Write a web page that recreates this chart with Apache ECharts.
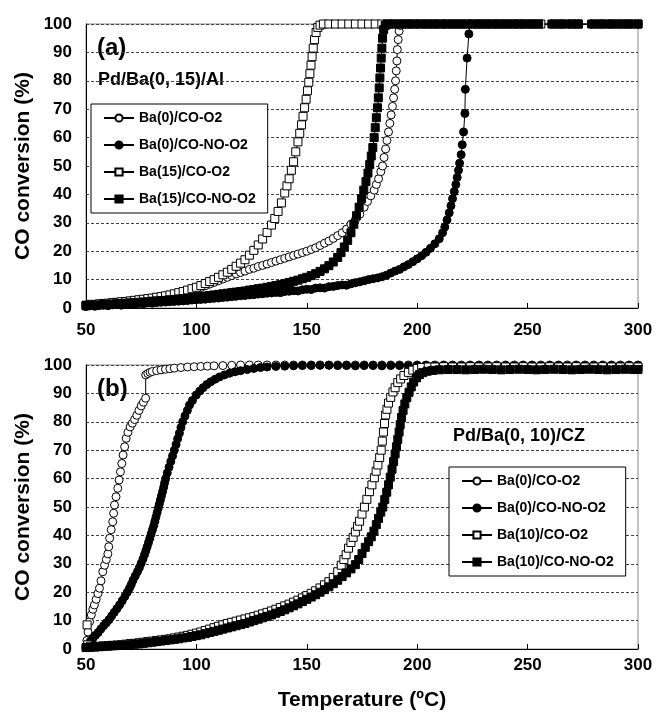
<!DOCTYPE html>
<html>
<head>
<meta charset="utf-8">
<script src="https://cdn.jsdelivr.net/npm/echarts@6/dist/echarts.min.js"></script>
<style>
html,body{margin:0;padding:0;background:#fff;}
#chart{width:658px;height:713px;}
</style>
</head>
<body>
<div id="chart"></div>
<script>
// ---------- Data (Temperature °C, CO conversion %) ----------
const xTicks = [50, 100, 150, 200, 250, 300];
const yTicks = [0, 10, 20, 30, 40, 50, 60, 70, 80, 90, 100];

const namesTop = ['Ba(0)/CO-O2', 'Ba(0)/CO-NO-O2', 'Ba(15)/CO-O2', 'Ba(15)/CO-NO-O2'];
const namesBottom = ['Ba(0)/CO-O2', 'Ba(0)/CO-NO-O2', 'Ba(10)/CO-O2', 'Ba(10)/CO-NO-O2'];

// Panel (a) Pd/Ba(0, 15)/Al
const topBa0_CO_O2 = [
[50,1.0],[52,1.2],[54,1.0],[56,1.3],[58,1.5],[60,1.4],[62,1.8],[64,2.0],[66,2.0],[68,2.3],[70,2.5],[72,2.6],[74,2.9],[76,3.0],[78,3.2],[80,3.5],[82,3.6],[84,3.9],[86,4.1],[88,4.4],[90,4.7],[92,5.0],[94,5.4],[96,5.8],[98,6.2],[100,6.7],[102,7.2],[104,7.8],[106,8.4],[108,9.0],[110,9.6],[112,10.2],[114,10.8],[116,11.4],[118,12.0],[120,12.5],[122,13.0],[124,13.6],[126,14.0],[128,14.6],[130,15.0],[132,15.5],[134,16.0],[136,16.5],[138,17.0],[140,17.5],[142,18.0],[144,18.5],[146,19.0],[148,19.5],[150,20.0],[152,20.6],[154,21.2],[156,22.0],[158,22.8],[160,23.6],[162,24.5],[164,25.5],[166,26.5],[168,27.8],[170,29.5],[172,31.0],[174,33.0],[176,35.5],[177.5,37.5],[179,39.5],[180.5,41.5],[181.5,43.5],[182.5,45.5],[183.5,48.0],[184.3,50.0],[185,53],[185.7,56],[186.3,59],[187,62],[187.6,65],[188.2,68],[188.8,71],[189.3,74],[189.8,77],[190.2,80],[190.5,83.5],[190.8,87],[191,91],[191.4,94.5],[191.8,97.5],[192.3,99.5],[193,100],
[196,100],[200,100],[204,100],[208,100],[212,100],[216,100],[220,100],[224,100],[228,100],[232,100],[236,100],[240,100],[244,100],[248,100],[252,100],[256,100],[261,100],[265,100],[269,100],[273,100],[279,100],[283,100],[287,100],[291,100],[295,100],[300,100]
];
const topBa0_CO_NO_O2 = [
[50,0.5],[52,0.8],[54,0.6],[56,0.9],[58,1.0],[60,0.8],[62,1.1],[64,1.2],[66,1.0],[68,1.3],[70,1.4],[72,1.3],[74,1.6],[76,1.5],[78,1.8],[80,1.7],[82,1.9],[84,2.0],[86,2.1],[88,2.2],[90,2.3],[92,2.4],[94,2.5],[96,2.6],[98,2.8],[100,2.9],[102,3.0],[104,3.1],[106,3.3],[108,3.4],[110,3.5],[112,3.7],[114,3.8],[116,4.0],[118,4.1],[120,4.3],[122,4.4],[124,4.6],[126,4.7],[128,4.9],[130,5.0],[132,5.2],[134,5.3],[136,5.5],[138,5.4],[140,5.8],[142,5.9],[144,6.1],[146,6.0],[148,6.4],[150,6.6],[152,6.5],[154,7.0],[156,7.1],[158,7.0],[160,7.5],[162,7.6],[164,7.9],[166,8.1],[168,8.0],[170,8.5],[172,8.9],[174,9.2],[176,9.6],[178,10.0],[180,10.3],[182,10.6],[184,11.0],[186,11.5],[188,12.3],[190,13.0],[192,13.6],[194,14.5],[196,15.3],[198,16.3],[200,17.3],[202,18.4],[204,19.6],[206,21.0],[208,22.6],[210,24.4],[211.5,26.5],[212.5,28.5],[213.5,31],[214.5,33.5],[215.3,36],[216,38.5],[216.8,41],[217.5,43.5],[218.1,46],[218.7,48.5],[219.2,51],[219.9,54],[220.4,57.5],[221,62],[221.6,68.5],[221.8,77],[222.6,88],[223.4,96.5],[223.8,100],
[226,100],[229,100],[232,100],[235,100],[238,100],[241,100],[244,100],[247,100],[250,100],[253,100],[256,100],[261,100],[264,100],[267,100],[270,100],[273,100],[279,100],[282,100],[285,100],[288,100],[291,100],[294,100],[297,100],[300,100]
];
const topBa15_CO_O2 = [
[50,1.0],[52,1.3],[54,1.2],[56,1.5],[58,1.6],[60,1.7],[62,1.9],[64,2.0],[66,2.2],[68,2.3],[70,2.5],[72,2.7],[74,2.9],[76,3.1],[78,3.3],[80,3.5],[82,3.8],[84,4.0],[86,4.3],[88,4.6],[90,5.0],[92,5.4],[94,5.8],[96,6.3],[98,6.8],[100,7.3],[102,7.9],[104,8.6],[106,9.3],[108,10.0],[110,10.8],[112,11.7],[114,12.6],[116,13.6],[118,14.7],[120,15.8],[122,17.0],[124,18.6],[126,20.3],[128,22.2],[130,24.3],[132,26.6],[134,29.2],[135.5,31.5],[137,34],[138.5,37],[140,40.5],[141,43],[142,45.5],[143,48.5],[144,51.5],[145,55],[146,58.5],[146.8,61.5],[147.6,64.5],[148.3,67.5],[149,70.5],[149.7,73.5],[150.3,76.5],[150.9,79.5],[151.4,82.5],[151.9,85.5],[152.4,88.5],[152.9,91.5],[153.5,94.5],[154.2,97],[155,98.8],[156,99.6],[157.5,100],
[160,100],[163,100],[166,100],[169,100],[172,100],[175,100],[178,100],[181,100],[184,100],[187,100],[190,100],[193,100],[196,100],[199,100],[202,100],[205,100],[208,100],[211,100],[214,100],[217,100],[220,100],[223,100],[226,100],[229,100],[232,100],[235,100],[238,100],[241,100],[244,100],[247,100],[250,100],[253,100],[256,100],[262,100],[266,100],[270,100],[273,100],[280,100],[284,100],[288,100],[292,100],[296,100],[300,100]
];
const topBa15_CO_NO_O2 = [
[50,0.8],[52,1.0],[54,0.9],[56,1.1],[58,1.2],[60,1.3],[62,1.4],[64,1.5],[66,1.6],[68,1.7],[70,1.8],[72,1.9],[74,2.0],[76,2.1],[78,2.2],[80,2.4],[82,2.5],[84,2.6],[86,2.7],[88,2.9],[90,3.0],[92,3.2],[94,3.3],[96,3.5],[98,3.6],[100,3.8],[102,4.0],[104,4.2],[106,4.4],[108,4.6],[110,4.8],[112,5.0],[114,5.2],[116,5.4],[118,5.6],[120,5.8],[122,6.0],[124,6.3],[126,6.5],[128,6.8],[130,7.0],[132,7.3],[134,7.6],[136,7.9],[138,8.2],[140,8.6],[142,9.0],[144,9.4],[146,9.8],[148,10.3],[150,10.8],[152,11.4],[154,12.1],[156,12.9],[158,13.8],[160,14.9],[162,16.2],[164,17.8],[165.5,19.5],[167,21.5],[168.5,23.8],[170,26.5],[171.3,29.5],[172.5,32.5],[173.7,35.5],[174.8,38.5],[175.8,41.5],[176.8,44.5],[177.7,47.5],[178.5,50.5],[179.2,53.5],[179.9,56.5],[180.5,60],[181,63.5],[181.5,67],[182,70.5],[182.4,74],[182.8,77.5],[183.1,81],[183.4,84.5],[183.7,88],[184,91.5],[184.3,95],[184.8,98],[185.5,99.5],[186.5,100],
[189,100],[192,100],[195,100],[198,100],[201,100],[204,100],[207,100],[210,100],[213,100],[216,100],[219,100],[222,100],[225,100],[228,100],[231,100],[234,100],[237,100],[240,100],[243,100],[246,100],[249,100],[252,100],[255,100],[261,100],[264,100],[267,100],[270,100],[273,100],[279,100],[282,100],[285,100],[288,100],[291,100],[294,100],[297,100],[300,100]
];

// Panel (b) Pd/Ba(0, 10)/CZ
const botBa0_CO_O2 = [
[50,0.5],[50.4,3],[50.9,6],[51.6,9.6],[52.4,12],[53.1,14],[53.8,15.5],[54.6,17.5],[55.4,19.5],[56.1,21.4],[56.8,24],[57.6,27.2],[58.4,29.5],[59.2,31.5],[59.9,33.5],[60.3,36],[60.7,39],[61.4,42],[62.1,44.8],[62.5,47.8],[62.9,50.7],[63.6,53.6],[64.4,56.6],[65,59.5],[65.6,62.4],[66.2,65.3],[66.8,68.3],[67.5,71.2],[68.2,74.2],[69,76.3],[70,78.2],[71,79.5],[72,80.8],[73,82.3],[74,84],[75,85.6],[76,86.9],[77,88.3],[77.05,96.5],[78,97],[79,97.4],[80,97.7],[82,98],[84,98.3],[86,98.5],[88,98.7],[90,98.9],[93,99.1],[96,99.3],[99,99.4],[102,99.5],[105,99.6],[108,99.7],[112,99.8],[116,99.9],[120,100],[124,100],[128,100],[132,100],[136,100],[140,100],[144,100],[148,100],[152,100],[156,100],[160,100],[164,100],[168,100],[172,100],[176,100],[180,100],[184,100],[188,100],[192,100],[196,100],[200,100],[204,100],[208,100],[212,100],[216,100],[220,100],[224,100],[228,100],[232,100],[236,100],[240,100],[244,100],[248,100],[252,100],[256,100],[260,100],[264,100],[268,100],[272,100],[276,100],[280,100],[284,100],[288,100],[292,100],[296,100],[300,100]
];
const botBa0_CO_NO_O2 = [
[50,0.5],[50.8,1.5],[52,2.8],[53.1,3.8],[54.3,4.8],[55.5,5.8],[56.7,7],[58,8.2],[59.2,9.2],[60.4,10.3],[61.6,11.6],[62.8,12.9],[64,14.2],[65.2,15.5],[66.4,17],[67.6,18.5],[68.7,20],[69.7,21.4],[70.5,22.7],[71.3,24.2],[72.3,25.7],[73.3,27.2],[74.2,28.7],[75,30.2],[75.8,31.7],[76.5,33.2],[77.1,34.6],[77.7,36],[78.3,37.5],[78.9,39],[79.5,40.5],[80.1,42],[80.7,43.5],[81.2,45],[81.7,46.5],[82.2,48],[82.7,49.5],[83.2,51],[83.7,52.5],[84.2,54],[84.7,55.5],[85.2,57],[85.6,58.5],[86.1,60],[86.8,62],[87.6,64],[88.4,66],[89.2,68],[90,70],[90.8,72],[91.5,74],[92.3,76],[93,78],[93.8,80],[94.8,82],[95.9,84],[96.9,85.9],[98.2,87.5],[99.9,89.4],[101.5,90.8],[103,92],[104.7,93.1],[106.5,94.1],[108.5,95],[110.5,95.8],[112.7,96.5],[115,97.1],[117.5,97.6],[120,98],[123,98.4],[126,98.8],[129,99.1],[132,99.3],[136,99.5],[140,99.6],[144,99.7],[148,99.8],[152,99.8],[156,99.9],[160,99.9],[164,99.8],[168,99.8],[172,99.7],[176,99.8],[180,99.8],[184,99.7],[188,99.8],[192,99.8],[196,99.7],[200,99.8],[204,99.8],[208,99.7],[212,99.8],[216,99.8],[220,99.7],[224,99.8],[228,99.8],[232,99.7],[236,99.8],[240,99.8],[244,99.7],[248,99.8],[252,99.8],[256,99.7],[260,99.8],[264,99.8],[268,99.7],[272,99.8],[276,99.8],[280,99.7],[284,99.8],[288,99.8],[292,99.7],[296,99.8],[300,99.8]
];
const botBa10_CO_O2 = [
[50.5,8.5],[50.8,1.5],[52,1.0],[54,0.8],[56,1.0],[58,1.1],[60,1.2],[62,1.3],[64,1.4],[66,1.5],[68,1.7],[70,1.9],[72,2.0],[74,2.2],[76,2.4],[78,2.6],[80,2.8],[82,3.0],[84,3.2],[86,3.4],[88,3.6],[90,3.9],[92,4.2],[94,4.5],[96,4.8],[98,5.2],[100,5.6],[102,6.0],[104,6.5],[106,7.0],[108,7.5],[110,8.0],[112,8.5],[114,9.0],[116,9.4],[118,9.8],[120,10.2],[122,10.6],[124,11.0],[126,11.4],[128,11.9],[130,12.4],[132,12.9],[134,13.4],[136,14.0],[138,14.6],[140,15.2],[142,15.8],[144,16.5],[146,17.2],[148,18.0],[150,18.8],[152,19.6],[154,20.5],[156,21.5],[158,22.6],[160,23.7],[162,25.2],[164,27.2],[165.6,29.5],[166.8,31.5],[167.8,33.2],[168.9,35.5],[170,37.5],[171,39.3],[172,41.2],[173,43.2],[173.9,45],[175,47.5],[176.1,50],[177.2,52.7],[178.4,55.4],[179.5,57.8],[180.6,60.3],[181.4,62.6],[182.2,64.8],[183,67.4],[183.7,70],[184.2,73.2],[184.7,76.4],[185.2,79.4],[185.7,82.4],[186.3,84.4],[187,86.6],[188,88.6],[189,90.5],[190,92],[191.2,93.8],[192.5,95.1],[194,96.3],[196,97.4],[198,98.2],[200,98.8],[202,99.1],[205,99.3],[208,99.3],[212,99.4],[216,99.3],[220,99.3],[224,99.4],[228,99.3],[232,99.3],[236,99.4],[240,99.3],[244,99.3],[248,99.4],[252,99.3],[256,99.3],[260,99.4],[264,99.3],[268,99.3],[272,99.4],[276,99.3],[280,99.3],[284,99.4],[288,99.3],[292,99.3],[296,99.4],[300,99.3]
];
const botBa10_CO_NO_O2 = [
[50,0.5],[52,0.6],[54,0.7],[56,0.8],[58,0.9],[60,1.0],[62,1.1],[64,1.2],[66,1.3],[68,1.4],[70,1.5],[72,1.7],[74,1.8],[76,2.0],[78,2.2],[80,2.4],[82,2.6],[84,2.8],[86,3.0],[88,3.2],[90,3.4],[92,3.6],[94,3.9],[96,4.1],[98,4.4],[100,4.7],[102,5.0],[104,5.4],[106,5.8],[108,6.2],[110,6.6],[112,7.0],[114,7.4],[116,7.8],[118,8.2],[120,8.6],[122,9.0],[124,9.5],[126,10.0],[128,10.5],[130,11.0],[132,11.5],[134,12.0],[136,12.6],[138,13.2],[140,13.8],[142,14.5],[144,15.2],[146,15.9],[148,16.7],[150,17.5],[152,18.3],[154,19.1],[156,20.0],[158,20.9],[160,21.9],[162,23.0],[164,24.2],[166,25.5],[168,26.8],[170,28.2],[172,29.7],[173.5,31.5],[175,33.6],[176.5,35.8],[178,37.8],[179.2,39.5],[180.4,41.5],[181.5,43.8],[182.5,46],[183.5,48.2],[184.4,50],[185.3,52.6],[186.2,55.2],[187,57.8],[187.8,60.5],[188.6,63.3],[189.3,66],[190,68.7],[190.6,71.2],[191.2,73.8],[191.8,76.4],[192.3,79],[192.9,81.5],[193.6,84],[194.4,86.3],[195.3,88.5],[196.3,90.4],[197.3,92.3],[198.4,94],[199.7,95.5],[201,96.6],[202.5,97.3],[204.5,97.8],[207,98.1],[210,98.3],[214,98.4],[218,98.4],[222,98.3],[226,98.4],[230,98.5],[234,98.4],[238,98.3],[242,98.4],[246,98.5],[250,98.4],[254,98.3],[258,98.4],[262,98.5],[266,98.4],[270,98.3],[274,98.4],[278,98.5],[282,98.4],[286,98.3],[290,98.4],[294,98.5],[298,98.4],[300,98.4]
];

// ---------- Chart ----------
const FONT = "'Liberation Sans', Arial, sans-serif";
const chart = echarts.init(document.getElementById('chart'), null, {renderer: 'canvas'});

const styles = [
  {symbol: 'circle', fill: '#fff'},
  {symbol: 'circle', fill: '#000'},
  {symbol: 'rect', fill: '#fff'},
  {symbol: 'rect', fill: '#000'}
];

function mkSeries(name, data, idx, st) {
  return {
    type: 'line', name: name, data: data,
    xAxisIndex: idx, yAxisIndex: idx,
    symbol: st.symbol, symbolSize: 8, showSymbol: true,
    lineStyle: {color: '#000', width: 1},
    itemStyle: {color: st.fill, borderColor: '#000', borderWidth: 1},
    emphasis: {disabled: true},
    animation: false
  };
}

const topData = [topBa0_CO_O2, topBa0_CO_NO_O2, topBa15_CO_O2, topBa15_CO_NO_O2];
const botData = [botBa0_CO_O2, botBa0_CO_NO_O2, botBa10_CO_O2, botBa10_CO_NO_O2];
const series = [];
topData.forEach((d, i) => series.push(mkSeries(namesTop[i], d, 0, styles[i])));
botData.forEach((d, i) => series.push(mkSeries(namesBottom[i], d, 1, styles[i])));

function xAxisCfg(gi, margin) {
  return {
    type: 'value', gridIndex: gi, min: xTicks[0], max: xTicks[xTicks.length - 1], interval: 50,
    axisLine: {show: true, lineStyle: {color: '#000', width: 1}},
    axisTick: {show: true, inside: true, length: 5, lineStyle: {color: '#000'}},
    axisLabel: {fontSize: 17, fontWeight: 'bold', color: '#000', fontFamily: FONT, margin: margin},
    splitLine: {show: false}
  };
}
function yAxisCfg(gi) {
  return {
    type: 'value', gridIndex: gi, min: yTicks[0], max: yTicks[yTicks.length - 1], interval: 10,
    axisLine: {show: true, lineStyle: {color: '#000', width: 1}},
    axisTick: {show: false},
    axisLabel: {fontSize: 17, fontWeight: 'bold', color: '#000', fontFamily: FONT, margin: 14},
    splitLine: {show: true, lineStyle: {color: '#444', width: 1, type: [3, 2]}}
  };
}
function legendCfg(names, left, top) {
  return {
    data: names, orient: 'vertical', left: left, top: top,
    backgroundColor: '#fff', borderColor: '#000', borderWidth: 1,
    padding: [7, 12, 7, 12], itemGap: 13, itemWidth: 30, itemHeight: 9,
    selectedMode: false,
    textStyle: {fontSize: 14, fontWeight: 'bold', color: '#000', fontFamily: FONT}
  };
}

const option = {
  backgroundColor: '#fff',
  animation: false,
  grid: [
    {left: 86, top: 24, width: 552, height: 284, show: true, borderColor: '#888', borderWidth: 1, backgroundColor: 'transparent'},
    {left: 86, top: 365, width: 552, height: 284, show: true, borderColor: '#888', borderWidth: 1, backgroundColor: 'transparent'}
  ],
  xAxis: [xAxisCfg(0, 14), xAxisCfg(1, 8)],
  yAxis: [yAxisCfg(0), yAxisCfg(1)],
  legend: [legendCfg(namesTop, 91, 104), legendCfg(namesBottom, 449, 467)],
  series: series,
  graphic: [
    {type: 'text', x: 97, y: 48, style: {text: '(a)', font: 'bold 24px ' + FONT, fill: '#000', verticalAlign: 'middle'}},
    {type: 'text', x: 98, y: 80, style: {text: 'Pd/Ba(0, 15)/Al', font: 'bold 18px ' + FONT, fill: '#000', verticalAlign: 'middle'}},
    {type: 'text', x: 97, y: 389, style: {text: '(b)', font: 'bold 24px ' + FONT, fill: '#000', verticalAlign: 'middle'}},
    {type: 'text', x: 453, y: 436, style: {text: 'Pd/Ba(0, 10)/CZ', font: 'bold 18px ' + FONT, fill: '#000', verticalAlign: 'middle'}},
    {type: 'text', x: 23, y: 166, rotation: Math.PI / 2, style: {text: 'CO conversion (%)', font: 'bold 21px ' + FONT, fill: '#000', align: 'center', verticalAlign: 'middle'}},
    {type: 'text', x: 23, y: 507, rotation: Math.PI / 2, style: {text: 'CO conversion (%)', font: 'bold 21px ' + FONT, fill: '#000', align: 'center', verticalAlign: 'middle'}},
    {type: 'text', x: 362, y: 700, style: {text: 'Temperature (ºC)', font: 'bold 21px ' + FONT, fill: '#000', align: 'center', verticalAlign: 'middle'}}
  ]
};
chart.setOption(option);
</script>
</body>
</html>
